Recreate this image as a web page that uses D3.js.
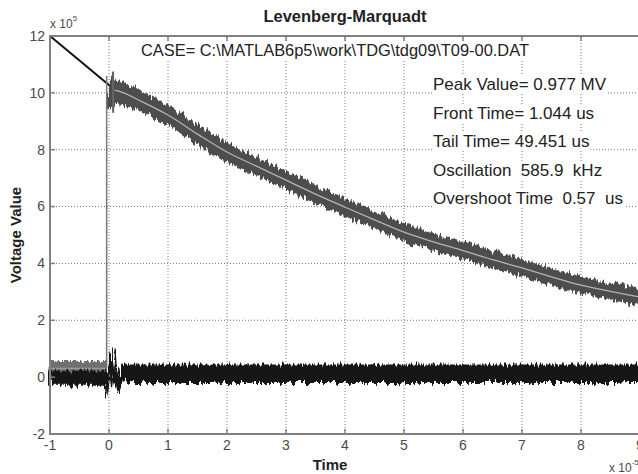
<!DOCTYPE html>
<html>
<head>
<meta charset="utf-8">
<script src="https://cdn.jsdelivr.net/npm/d3@7"></script>
<style>
  body { margin: 0; background: #fff; }
  svg { display: block; font-family: "Liberation Sans", Arial, sans-serif; }
  text { white-space: pre; }
</style>
</head>
<body>
<svg id="chart" width="638" height="474"></svg>
<script>
// axis ticks (x in 1e-5 s, y in 1e5 V)
var xTicks = [-1, 0, 1, 2, 3, 4, 5, 6, 7, 8, 9];
var yTicks = [-2, 0, 2, 4, 6, 8, 10, 12];

// fitted curve
var fitTime  = [-1, -0.5, 0.1, 0.25, 0.5, 1, 1.5, 2, 2.5, 3, 3.5, 4, 4.5, 5, 5.5, 6, 6.5, 7, 7.5, 8, 8.5, 9];
var fitValue = [12, 11.14, 10.1, 10.0, 9.75, 9.22, 8.55, 7.92, 7.42, 6.93, 6.44, 5.98, 5.53, 5.1, 4.76, 4.45, 4.13, 3.84, 3.53, 3.24, 3.02, 2.82];

// measured signal, envelope of the noisy band
var measTime  = [0.0, 0.05, 0.1, 0.2, 0.5, 1, 1.5, 2, 2.5, 3, 3.5, 4, 4.5, 5, 5.5, 6, 6.5, 7, 7.5, 8, 8.5, 9];
var measUpper = [10.5, 10.7, 10.4, 10.35, 10.08, 9.52, 8.87, 8.22, 7.72, 7.2, 6.72, 6.25, 5.8, 5.38, 5.02, 4.72, 4.4, 4.1, 3.8, 3.5, 3.28, 3.1];
var measLower = [9.4, 9.5, 9.7, 9.62, 9.42, 8.9, 8.22, 7.6, 7.1, 6.63, 6.14, 5.7, 5.25, 4.83, 4.48, 4.18, 3.86, 3.57, 3.26, 2.97, 2.76, 2.55];

// measured baseline before the front
var preTime  = [-1, -0.5, -0.05];
var preUpper = [0.55, 0.55, 0.55];
var preLower = [0.12, 0.12, 0.12];
var preFit   = [0.3, 0.3, 0.3];

// residual (measured - fit)
var resTime  = [-1, -0.1, -0.05, -0.02, 0.02, 0.05, 0.08, 0.11, 0.15, 0.2, 0.25, 0.35, 1, 2, 3, 4, 5, 6, 7, 8, 9];
var resUpper = [0.2, 0.2, 0.2, 0.1, 0.6, 1.0, 0.6, 0.2, 0.0, 0.35, 0.45, 0.42, 0.42, 0.42, 0.42, 0.42, 0.42, 0.42, 0.42, 0.42, 0.42];
var resLower = [-0.28, -0.28, -0.3, -0.7, -0.1, 0.2, -0.1, -0.3, -0.52, -0.2, -0.05, -0.18, -0.18, -0.18, -0.18, -0.18, -0.18, -0.18, -0.18, -0.18, -0.18];

var notes = ['Peak Value= 0.977 MV', 'Front Time= 1.044 us', 'Tail Time= 49.451 us',
             'Oscillation  585.9  kHz', 'Overshoot Time  0.57  us'];

var svg = d3.select('#chart');
var x = d3.scaleLinear().domain([-1, 9]).range([50, 640]);
var y = d3.scaleLinear().domain([-2, 12]).range([434, 36]);

// noise texture for the bands
var defs = svg.append('defs');
var f = defs.append('filter').attr('id', 'noisy')
  .attr('x', '-2%').attr('y', '-10%').attr('width', '104%').attr('height', '120%');
f.append('feTurbulence').attr('type', 'fractalNoise')
  .attr('baseFrequency', '0.45 0.03').attr('numOctaves', 2).attr('seed', 3).attr('result', 'n');
f.append('feDisplacementMap').attr('in', 'SourceGraphic').attr('in2', 'n')
  .attr('scale', 11).attr('xChannelSelector', 'R').attr('yChannelSelector', 'G');

// grid
var grid = svg.append('g').attr('stroke', '#777').attr('stroke-dasharray', '1,2');
grid.selectAll('.gx').data(xTicks.slice(1)).enter().append('line')
  .attr('x1', d => x(d)).attr('x2', d => x(d)).attr('y1', y(-2)).attr('y2', y(12));
grid.selectAll('.gy').data(yTicks.slice(1, -1)).enter().append('line')
  .attr('y1', d => y(d)).attr('y2', d => y(d)).attr('x1', x(-1)).attr('x2', x(9));

var band = d3.area().x(d => x(d[0])).y0(d => y(d[2])).y1(d => y(d[1]));
var line = d3.line().x(d => x(d[0])).y(d => y(d[1]));
var zip3 = (t, a, b) => t.map((v, i) => [v, a[i], b[i]]);
var zip2 = (t, a) => t.map((v, i) => [v, a[i]]);

// fit line, black part before the front
var fitPts = zip2(fitTime, fitValue);
svg.append('path').datum(fitPts.filter(d => d[0] <= 0.1))
  .attr('d', line.curve(d3.curveLinear)).attr('fill', 'none')
  .attr('stroke', '#111').attr('stroke-width', 2);

// measured band
svg.append('path').datum(zip3(preTime, preUpper, preLower))
  .attr('d', band).attr('fill', '#6f6f6f').attr('stroke', '#6f6f6f').attr('filter', 'url(#noisy)');
svg.append('path').datum(zip3(measTime, measUpper, measLower))
  .attr('d', band.curve(d3.curveMonotoneX)).attr('fill', '#4d4d4d').attr('stroke', '#4d4d4d')
  .attr('stroke-width', 2).attr('filter', 'url(#noisy)');
// front
svg.append('line').attr('x1', x(-0.04)).attr('x2', x(-0.04)).attr('y1', y(0.3)).attr('y2', y(10.6))
  .attr('stroke', '#777').attr('stroke-width', 1.5);
svg.append('line').attr('x1', x(0.07)).attr('x2', x(0.07)).attr('y1', y(9.3)).attr('y2', y(10.75))
  .attr('stroke', '#666').attr('stroke-width', 2);

// fit through the band
svg.append('path').datum(fitPts.filter(d => d[0] >= 0.1))
  .attr('d', line.curve(d3.curveMonotoneX)).attr('fill', 'none')
  .attr('stroke', '#b4b4b4').attr('stroke-width', 1.3);
svg.append('path').datum(zip2(preTime, preFit))
  .attr('d', line.curve(d3.curveLinear)).attr('fill', 'none')
  .attr('stroke', '#9a9a9a').attr('stroke-width', 1.5);

// residual
svg.append('path').datum(zip3(resTime, resUpper, resLower))
  .attr('d', band.curve(d3.curveMonotoneX)).attr('fill', '#151515').attr('stroke', '#151515')
  .attr('stroke-width', 1.5).attr('filter', 'url(#noisy)');

// box and ticks
var axisCol = '#808080';
svg.append('rect').attr('x', x(-1)).attr('y', y(12)).attr('width', x(9) - x(-1)).attr('height', y(-2) - y(12))
  .attr('fill', 'none').attr('stroke', axisCol).attr('stroke-width', 2);
var tk = svg.append('g').attr('stroke', axisCol).attr('stroke-width', 1.5);
xTicks.forEach(function (t) {
  tk.append('line').attr('x1', x(t)).attr('x2', x(t)).attr('y1', y(-2)).attr('y2', y(-2) - 5);
  tk.append('line').attr('x1', x(t)).attr('x2', x(t)).attr('y1', y(12)).attr('y2', y(12) + 5);
});
yTicks.forEach(function (t) {
  tk.append('line').attr('y1', y(t)).attr('y2', y(t)).attr('x1', x(-1)).attr('x2', x(-1) + 5);
});

var lab = svg.append('g').attr('fill', '#4a4a4a').attr('font-size', 14);
lab.selectAll('.xl').data(xTicks).enter().append('text')
  .attr('x', d => x(d)).attr('y', 450).attr('text-anchor', 'middle').text(d => d);
lab.selectAll('.yl').data(yTicks).enter().append('text')
  .attr('x', 45).attr('y', d => y(d)).attr('dy', '0.35em').attr('text-anchor', 'end').text(d => d);

// exponents
var e1 = svg.append('text').attr('x', 50).attr('y', 28).attr('font-size', 12).attr('fill', '#4a4a4a');
e1.append('tspan').text('x 10');
e1.append('tspan').attr('dy', -7).attr('font-size', 8).text('5');
var e2 = svg.append('text').attr('x', 609).attr('y', 472).attr('font-size', 12).attr('fill', '#4a4a4a');
e2.append('tspan').text('x 10');
e2.append('tspan').attr('dy', -7).attr('font-size', 8).text('-5');

// titles
svg.append('text').attr('x', 345).attr('y', 22).attr('text-anchor', 'middle')
  .attr('font-weight', 'bold').attr('font-size', 16.5).attr('fill', '#222').text('Levenberg-Marquadt');
svg.append('text').attr('x', 330).attr('y', 470).attr('text-anchor', 'middle')
  .attr('font-weight', 'bold').attr('font-size', 15).attr('fill', '#222').text('Time');
svg.append('text').attr('transform', 'translate(21,235) rotate(-90)').attr('text-anchor', 'middle')
  .attr('font-weight', 'bold').attr('font-size', 15).attr('fill', '#222').text('Voltage Value');

// text with white background
function boxed(tx, ty, str, size) {
  var g = svg.append('g');
  var t = g.append('text').attr('x', tx).attr('y', ty).attr('font-size', size).attr('fill', '#222').text(str);
  var b = t.node().getBBox();
  g.insert('rect', 'text').attr('x', b.x - 1).attr('y', b.y + 1).attr('width', b.width + 2)
    .attr('height', b.height - 1).attr('fill', '#fff');
}
boxed(141, 56, 'CASE= C:\\MATLAB6p5\\work\\TDG\\tdg09\\T09-00.DAT', 16.4);
notes.forEach((s, i) => boxed(433, 90 + i * 28.5, s, 17));
</script>
</body>
</html>
